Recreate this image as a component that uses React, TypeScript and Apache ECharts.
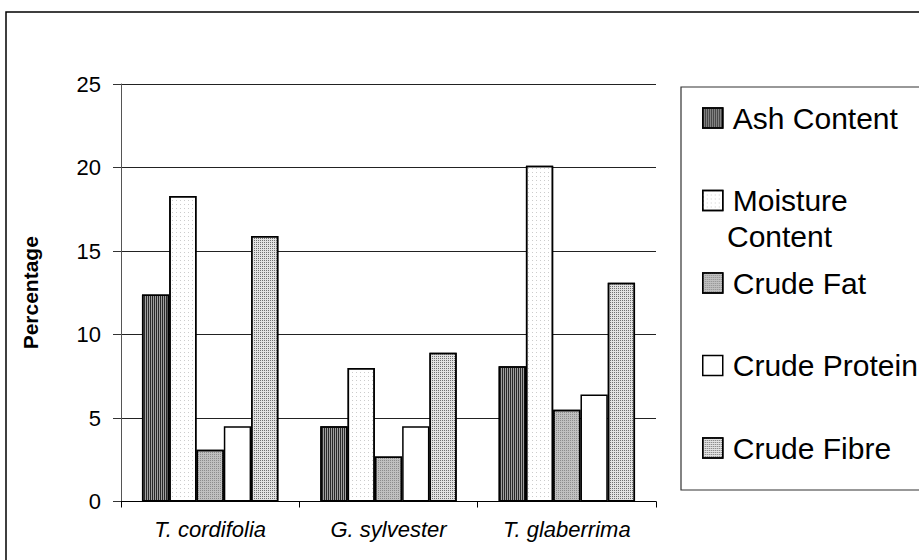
import React, { useEffect, useRef } from "react";
import * as echarts from "echarts";

const categories = ["T. cordifolia", "G. sylvester", "T. glaberrima"];
const seriesNames = ["Ash Content", "Moisture Content", "Crude Fat", "Crude Protein", "Crude Fibre"];
const ashContent = [12.4, 4.5, 8.1];
const moistureContent = [18.3, 8.0, 20.1];
const crudeFat = [3.1, 2.7, 5.5];
const crudeProtein = [4.5, 4.5, 6.4];
const crudeFibre = [15.9, 8.9, 13.1];
const yTicks = [0, 5, 10, 15, 20, 25];

const FONT = "'Liberation Sans', Arial, sans-serif";

export default function App() {
  const ref = useRef<HTMLDivElement>(null);
  useEffect(() => {
    if (!ref.current) return;
    const chart = echarts.init(ref.current, undefined, { renderer: "svg" });
    const values = [ashContent, moistureContent, crudeFat, crudeProtein, crudeFibre];
    const styles = [
      { color: "#a0a0a0", decal: { symbol: "rect", symbolSize: 1, dashArrayX: [1, 1], dashArrayY: [1, 0], color: "#2a2a2a" } },
      { color: "#ffffff", decal: { symbol: "rect", symbolSize: 1, dashArrayX: [1, 3], dashArrayY: [1, 3], color: "#cccccc" } },
      { color: "#c0c0c0", decal: { symbol: "rect", symbolSize: 1, dashArrayX: [1, 1], dashArrayY: [1, 1], color: "#8c8c8c" } },
      { color: "#ffffff", decal: "none" },
      { color: "#e2e2e2", decal: { symbol: "rect", symbolSize: 1, dashArrayX: [1, 1], dashArrayY: [1, 1], color: "#707070" } },
    ];
    const series = seriesNames.map((name, i) => ({
      name,
      type: "bar",
      data: values[i],
      barGap: "0%",
      barCategoryGap: "23.5%",
      itemStyle: {
        color: styles[i].color,
        borderColor: "#000",
        borderWidth: 1.5,
        ...(styles[i].decal !== "none" ? { decal: styles[i].decal } : {}),
      },
    }));
    chart.setOption({
      animation: false,
      backgroundColor: "#ffffff",
      textStyle: { fontFamily: FONT },
      grid: { left: 121, right: 263, top: 84, bottom: 58.5, containLabel: false },
      xAxis: {
        type: "category",
        data: categories,
        axisLine: { lineStyle: { color: "#000", width: 1 } },
        axisTick: { show: true, length: 6, lineStyle: { color: "#000" } },
        axisLabel: { fontSize: 22, fontStyle: "italic", color: "#000", margin: 17, fontFamily: FONT },
      },
      yAxis: {
        type: "value",
        min: yTicks[0],
        max: yTicks[yTicks.length - 1],
        interval: 5,
        name: "Percentage",
        nameLocation: "middle",
        nameRotate: 90,
        nameGap: 80,
        nameTextStyle: { fontSize: 21, fontWeight: "bold", color: "#000", fontFamily: FONT },
        axisLine: { show: true, lineStyle: { color: "#555", width: 1 } },
        axisTick: { show: true, length: 8, lineStyle: { color: "#333" } },
        axisLabel: { fontSize: 22, color: "#000", margin: 20, fontFamily: FONT },
        splitLine: { show: true, lineStyle: { color: "#222", width: 1 } },
      },
      legend: {
        orient: "vertical",
        left: 697,
        top: 98,
        itemWidth: 20,
        itemHeight: 20,
        itemGap: 52.5,
        icon: "rect",
        data: seriesNames,
        formatter: (n: string) => (n === "Moisture Content" ? "Moisture" : n),
        itemStyle: { borderColor: "#000", borderWidth: 1.5 },
        textStyle: { fontSize: 30, lineHeight: 30, color: "#000", fontFamily: FONT, padding: [0, 0, 0, 5] },
        selectedMode: false,
      },
      graphic: [
        {
          type: "rect",
          shape: { x: 6, y: 12, width: 1000, height: 1000 },
          style: { fill: "none", stroke: "#000", lineWidth: 1.5 },
          silent: true,
        },
        {
          type: "rect",
          shape: { x: 681, y: 87, width: 400, height: 403 },
          style: { fill: "none", stroke: "#333", lineWidth: 1.2 },
          silent: true,
        },
        {
          type: "text",
          x: 727,
          y: 236,
          style: { text: "Content", font: `30px ${FONT}`, fill: "#000", textVerticalAlign: "middle" },
          silent: true,
        },
      ],
      series,
    });
    return () => chart.dispose();
  }, []);
  return (
    <div
      ref={ref}
      style={{ position: "absolute", left: 0, top: 0, width: 919, height: 560 }}
    />
  );
}
